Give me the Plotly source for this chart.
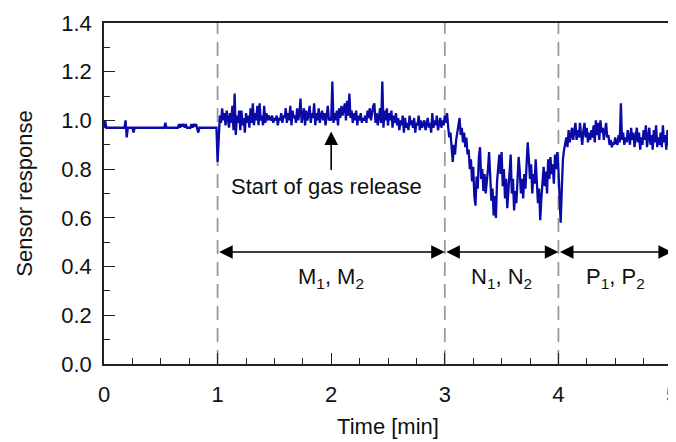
import numpy as np
import plotly.graph_objects as go

# Baseline segment (0-1 min), sparse samples
t_base = [0.00, 0.01, 0.02, 0.03, 0.18, 0.19, 0.20, 0.21, 0.25, 0.26, 0.27, 0.53, 0.54, 0.55,
          0.65, 0.66, 0.67, 0.68, 0.69, 0.70, 0.71, 0.72, 0.73, 0.74, 0.76, 0.77, 0.78, 0.79,
          0.80, 0.81, 0.82, 0.83, 0.84, 0.85, 0.99]
r_base = [0.97, 1.00, 0.97, 0.97, 0.97, 1.00, 0.93, 0.97, 0.97, 0.95, 0.97, 0.97, 0.99, 0.97,
          0.97, 0.985, 0.97, 0.985, 0.975, 0.985, 0.97, 0.985, 0.97, 0.97, 0.97, 0.985, 0.97, 0.985,
          0.975, 0.985, 0.97, 0.95, 0.97, 0.97, 0.97]

# Sampled every 0.01 min
r_M_a = [0.83, 0.97, 1.02, 0.99, 1.05, 1.00, 1.03, 0.98, 1.04, 1.01,
         0.97, 1.03, 0.99, 1.06, 0.96, 1.11, 0.94, 1.02, 0.99, 1.04,
         0.96, 1.04, 0.98, 1.01, 0.95, 1.03, 0.99, 1.02, 0.97, 1.05,
         0.99, 1.07, 0.98, 1.03, 1.00, 1.06, 0.98, 1.07, 1.00, 1.02,
         0.98, 1.06, 0.99, 1.03, 1.00, 1.02, 1.01, 1.00, 1.02, 0.99,
         1.01, 1.00, 1.02, 0.98, 1.01, 1.00, 1.03, 0.99, 1.02, 1.01,
         1.05, 0.99, 1.03, 1.00, 1.06, 0.98, 1.04, 1.01, 1.02, 0.99,
         1.05, 1.00, 1.03, 1.09, 0.99, 1.02, 1.05, 0.98, 1.04, 1.00,
         1.02, 1.06, 0.99, 1.03, 1.01, 1.07, 0.98, 1.03, 1.00, 1.05,
         0.99, 1.02, 1.04, 1.00, 1.03, 0.98, 1.02, 1.06, 1.00, 1.01]
r_M_b = [1.00, 1.16, 0.99, 1.03, 1.00, 1.04, 0.98, 1.05, 1.01, 1.06,
         1.02, 1.05, 1.07, 1.00, 1.08, 1.02, 1.11, 1.01, 1.04, 0.99,
         1.03, 1.00, 1.04, 0.98, 1.02, 1.00, 1.03, 0.99, 1.01, 1.00,
         1.02, 0.99, 1.04, 1.01, 1.05, 1.00, 1.03, 1.06, 1.07, 0.99,
         1.03, 0.98, 1.01, 1.05, 0.99, 1.16, 0.97, 1.04, 1.00, 1.05,
         0.98, 1.03, 1.00, 1.04, 0.97, 1.02, 0.99, 1.03, 0.98, 1.01,
         0.96, 1.00, 0.98, 1.02, 0.95, 1.01, 0.97, 0.99, 0.96, 1.02,
         0.98, 1.00, 0.97, 1.01, 0.95, 0.99, 0.98, 1.02, 0.96, 1.00,
         0.97, 0.99, 1.00, 0.96, 0.98, 1.01, 0.97, 0.99, 0.95, 1.03,
         0.97, 1.00, 0.98, 1.02, 0.96, 0.99, 1.01, 0.97, 1.00, 0.98]
r_N = [1.02, 0.99, 1.03, 0.97, 0.93, 0.95, 0.88, 0.83, 0.90, 0.86,
       0.92, 0.95, 0.98, 1.01, 0.94, 0.97, 0.91, 0.95, 0.89, 0.93,
       0.86, 0.88, 0.80, 0.84, 0.75, 0.81, 0.69, 0.65, 0.77, 0.72,
       0.85, 0.89, 0.76, 0.80, 0.71, 0.78, 0.70, 0.74, 0.80, 0.87,
       0.74, 0.67, 0.72, 0.61, 0.69, 0.60, 0.75, 0.82, 0.86, 0.78,
       0.87, 0.73, 0.80, 0.68, 0.76, 0.64, 0.72, 0.79, 0.86, 0.70,
       0.76, 0.63, 0.71, 0.66, 0.74, 0.85, 0.79, 0.70, 0.76, 0.68,
       0.78, 0.72, 0.82, 0.91, 0.84, 0.76, 0.82, 0.70, 0.78, 0.74,
       0.84, 0.77, 0.66, 0.72, 0.59, 0.68, 0.75, 0.81, 0.73, 0.79,
       0.70, 0.84, 0.76, 0.85, 0.78, 0.82, 0.74, 0.86, 0.80, 0.87]
r_P = [0.80, 0.68, 0.58, 0.72, 0.84, 0.88, 0.90, 0.93, 0.89, 0.96,
       0.91, 0.94, 0.97, 0.92, 0.95, 0.99, 0.92, 0.96, 0.93, 0.99,
       0.94, 0.90, 0.96, 0.99, 0.93, 0.97, 0.91, 0.95, 0.92, 0.96,
       0.93, 0.98, 0.91, 1.00, 0.94, 0.99, 0.92, 1.00, 0.95, 0.97,
       0.92, 0.96, 0.99, 0.93, 0.94, 0.90, 0.92, 0.89, 0.91, 0.90,
       0.93, 0.91, 0.90, 0.94, 0.91, 1.07, 0.92, 0.95, 0.90, 0.93,
       0.91, 0.96, 0.93, 0.90, 0.97, 0.92, 0.95, 0.89, 0.93, 0.97,
       0.91, 0.95, 0.88, 0.93, 0.90, 0.96, 0.92, 0.98, 0.89, 0.93,
       0.97, 0.90, 0.94, 0.88, 0.96, 0.91, 0.98, 0.89, 0.93, 0.90,
       0.95, 0.89, 0.98, 0.91, 0.94, 0.88, 0.96, 0.90, 0.93, 0.91, 0.92]

phase_bounds = [1, 3, 4, 5]
phase_labels = ["M<sub>1</sub>, M<sub>2</sub>", "N<sub>1</sub>, N<sub>2</sub>", "P<sub>1</sub>, P<sub>2</sub>"]
x_ticks = [0, 1, 2, 3, 4, 5]
y_ticks = [0.0, 0.2, 0.4, 0.6, 0.8, 1.0, 1.2, 1.4]

r_sampled = r_M_a + r_M_b + r_N + r_P
t_sampled = np.round(1.0 + 0.01 * np.arange(len(r_sampled)), 2)
t_all = list(t_base) + list(t_sampled)
r_all = list(r_base) + list(r_sampled)

FONT = "Liberation Sans, Arial, sans-serif"
FS = 22
fig = go.Figure()
fig.add_trace(go.Scatter(x=t_all, y=r_all, mode="lines",
                         line=dict(color="#0a0aa6", width=2.3), showlegend=False))

for xb in phase_bounds[:3]:
    fig.add_shape(type="line", x0=xb, x1=xb, y0=0, y1=1.4, xref="x", yref="y",
                  line=dict(color="#9a9a9a", width=1.8, dash="14px,8px"), layer="below")

arrow_y = 0.46
for i in range(3):
    x0, x1 = phase_bounds[i], phase_bounds[i + 1]
    fig.add_annotation(x=x1, y=arrow_y, ax=x0, ay=arrow_y, xref="x", yref="y",
                       axref="x", ayref="y", text="", showarrow=True,
                       arrowhead=2, startarrowhead=2, arrowside="end+start",
                       arrowsize=1.7, startarrowsize=1.7, arrowwidth=1.6, arrowcolor="#000")
    fig.add_annotation(x=(x0 + x1) / 2, y=0.355, xref="x", yref="y", text=phase_labels[i],
                       showarrow=False, font=dict(family=FONT, size=FS, color="#111"))

fig.add_annotation(x=2.0, y=0.955, ax=2.0, ay=0.79, xref="x", yref="y", axref="x", ayref="y",
                   text="", showarrow=True, arrowhead=2, arrowsize=1.7, arrowwidth=1.6,
                   arrowcolor="#000")
fig.add_annotation(x=1.96, y=0.727, xref="x", yref="y", text="Start of gas release",
                   showarrow=False, font=dict(family=FONT, size=22, color="#111"))

axis_common = dict(showline=True, linecolor="#222", linewidth=1.5, mirror=True,
                   ticks="inside", tickcolor="#222", tickwidth=1.3, ticklen=11,
                   showgrid=False, zeroline=False, automargin=False,
                   tickfont=dict(family=FONT, size=FS, color="#111"),
                   title_font=dict(family=FONT, size=FS, color="#111"))

fig.update_xaxes(range=[0, 5], tickvals=x_ticks, ticktext=[str(v) for v in x_ticks],
                 minor=dict(dtick=0.25, ticks="inside", ticklen=6, tickcolor="#222", tickwidth=1.1),
                 title_text="Time [min]", title_standoff=12, ticklabelstandoff=10,
                 ticklabeloverflow="allow", **axis_common)
fig.update_yaxes(range=[0, 1.4], tickvals=y_ticks, ticktext=[f"{v:.1f}" for v in y_ticks],
                 minor=dict(dtick=0.1, ticks="inside", ticklen=6, tickcolor="#222", tickwidth=1.1),
                 title_text="Sensor response", title_standoff=23, ticklabelstandoff=6,
                 **axis_common)

# The page body adds an 8px offset, so the figure is sized to end at the window edge.
fig.update_layout(width=668, height=434, margin=dict(l=96, r=4, t=15, b=78),
                  plot_bgcolor="white", paper_bgcolor="white")
fig.write_html("out.html")
